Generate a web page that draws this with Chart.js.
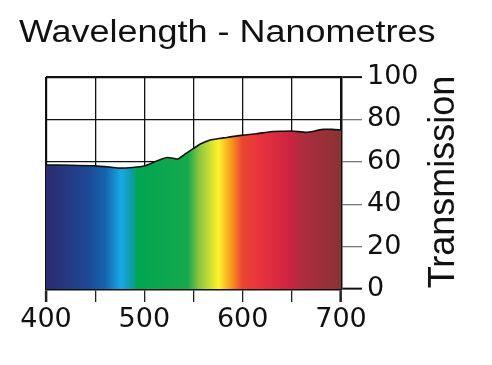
<!DOCTYPE html>
<html>
<head>
<meta charset="utf-8">
<script src="https://cdn.jsdelivr.net/npm/chart.js@4"></script>
<style>
    html, body { margin: 0; padding: 0; background: #fff; }
    canvas { display: block; }
</style>
</head>
<body>
<canvas id="specChart" width="492" height="365"></canvas>
<script>
// Curve
const wavelengths = [400, 425, 450, 465, 475, 488, 500, 512, 523, 529, 534, 541, 550, 558, 567, 576, 584, 600, 614, 628, 640, 650, 665, 674, 682, 691, 700];
const transmission = [58.5, 58.4, 58.1, 57.5, 57.0, 57.3, 58.0, 60.3, 62.0, 61.7, 61.3, 63.5, 66.3, 68.6, 70.3, 71.0, 71.5, 72.6, 73.2, 74.2, 74.4, 74.5, 73.9, 74.6, 75.3, 75.3, 75.0];
const xTicks = [400, 500, 600, 700];
const yTicks = [0, 20, 40, 60, 80, 100];

const titleText = 'Wavelength - Nanometres';
const yTitleText = 'Transmission';

// spectrum colours across the plot (0 = 400nm, 1 = 700nm)
const spectrumStops = [
    [0.00, '#2b2b6f'],
    [0.13, '#1f4592'],
    [0.20, '#1463ad'],
    [0.255, '#18a8e4'],
    [0.29, '#0e9ca8'],
    [0.31, '#00a651'],
    [0.48, '#16a84c'],
    [0.52, '#8dc63f'],
    [0.585, '#fff22d'],
    [0.63, '#f7941d'],
    [0.665, '#ec4632'],
    [0.72, '#e8343e'],
    [0.83, '#cc2342'],
    [0.86, '#b22c40'],
    [1.00, '#883333']
];

function spectrumFill(context) {
    const area = context.chart.chartArea;
    if (!area) return '#888';
    const g = context.chart.ctx.createLinearGradient(area.left, 0, area.right, 0);
    spectrumStops.forEach(s => g.addColorStop(s[0], s[1]));
    return g;
}

// title texts, drawn with a little horizontal stretch like the original
const textPlugin = {
    id: 'texts',
    afterDraw(chart) {
        const ctx = chart.ctx;
        ctx.save();
        ctx.fillStyle = '#111';
        ctx.font = '31px "Liberation Sans", Arial, sans-serif';
        ctx.textBaseline = 'alphabetic';
        ctx.translate(19, 42);
        ctx.scale(1.16, 1);
        ctx.fillText(titleText, 0, 0);
        ctx.restore();

        ctx.save();
        ctx.fillStyle = '#111';
        ctx.font = '36px "Liberation Sans", Arial, sans-serif';
        ctx.textAlign = 'center';
        ctx.textBaseline = 'middle';
        ctx.translate(444, 182);
        ctx.rotate(-Math.PI / 2);
        ctx.fillText(yTitleText, 0, 0);
        ctx.restore();
    }
};

new Chart(document.getElementById('specChart'), {
    type: 'line',
    data: {
        datasets: [{
            data: wavelengths.map((w, i) => ({ x: w, y: transmission[i] })),
            borderColor: '#111',
            borderWidth: 1.6,
            backgroundColor: spectrumFill,
            fill: 'origin',
            pointRadius: 0,
            tension: 0.2
        }]
    },
    options: {
        responsive: false,
        animation: false,
        layout: { padding: { left: 46, top: 77, right: 0, bottom: 0 } },
        plugins: {
            legend: { display: false },
            tooltip: { enabled: false }
        },
        scales: {
            x: {
                type: 'linear',
                min: 400,
                max: 700,
                z: 1,
                afterFit: s => { s.height = 76; },
                border: { color: '#111', width: 2.5 },
                grid: {
                    color: '#111',
                    lineWidth: c => (c.tick && c.tick.value === 400 ? 2.2 : 1.3),
                    tickLength: 13,
                    tickColor: '#222',
                    tickWidth: c => (c.tick && (c.tick.value === 400 || c.tick.value === 700) ? 2.5 : 1.3)
                },
                ticks: {
                    stepSize: 50,
                    autoSkip: false,
                    maxRotation: 0,
                    padding: 2,
                    color: '#111',
                    font: { family: '"DejaVu Sans"', size: 27 },
                    callback: v => (xTicks.includes(v) ? String(v) : '')
                }
            },
            y: {
                position: 'right',
                min: 0,
                max: 100,
                z: 1,
                afterFit: s => { s.width = 151; },
                border: { color: '#111', width: 2.5 },
                grid: {
                    color: '#111',
                    lineWidth: c => (c.tick && c.tick.value === 100 ? 2.2 : 1.3),
                    tickLength: 21,
                    tickColor: c => (c.tick && (c.tick.value === 100 || c.tick.value === 0) ? '#111' : '#777'),
                    tickWidth: c => (c.tick && (c.tick.value === 100 || c.tick.value === 0) ? 2 : 1.3)
                },
                ticks: {
                    stepSize: 20,
                    padding: 5,
                    color: '#111',
                    font: { family: '"DejaVu Sans"', size: 27 },
                    callback: v => (yTicks.includes(v) ? String(v) : '')
                }
            }
        }
    },
    plugins: [textPlugin]
});
</script>
</body>
</html>
